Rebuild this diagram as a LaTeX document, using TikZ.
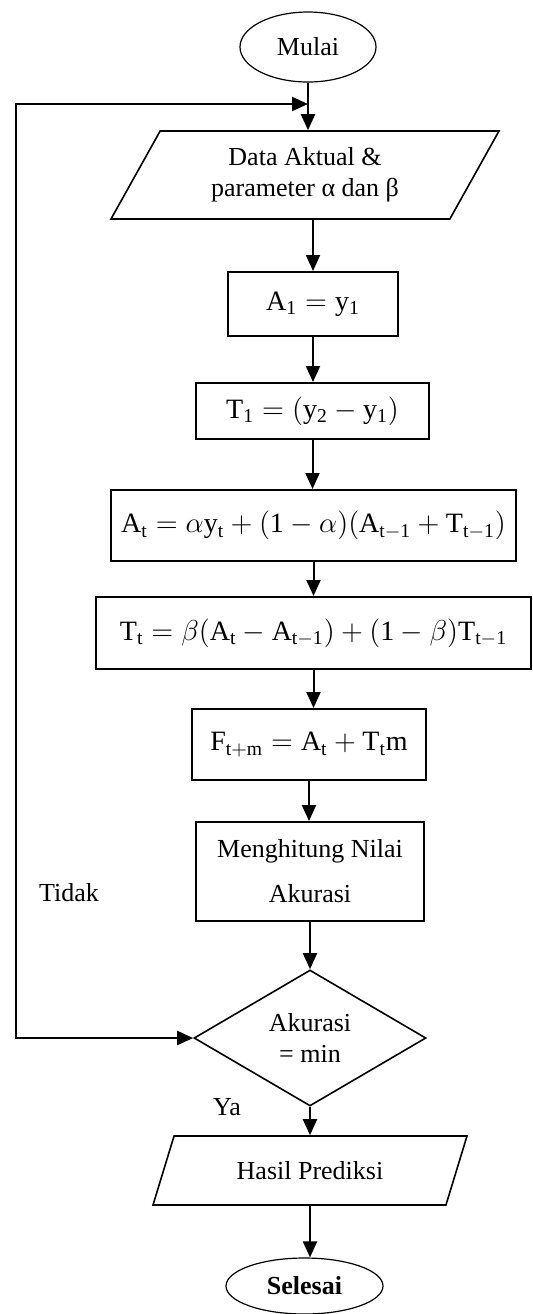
\documentclass[tikz,border=0pt]{standalone}
\usepackage{fontspec}
\setmainfont{Liberation Serif}
\usetikzlibrary{arrows.meta,positioning,calc,shapes.geometric}
\tikzset{
  proc/.style={draw,line width=1pt,inner sep=1pt,align=center},
  eq/.style={proc,font=\fontsize{14}{17}\selectfont},
  term/.style={draw,ellipse,line width=0.6pt,inner sep=0pt,align=center},
  io/.style={draw,trapezium,trapezium stretches body,line width=0.8pt,inner sep=0pt,align=center},
  dec/.style={draw,diamond,aspect=2,line width=0.8pt,inner sep=0pt,align=center},
  arr/.style={-{Triangle[length=8pt,width=7pt]},line width=1pt},
  lbl/.style={inner sep=0pt},
}
\begin{document}
\begin{tikzpicture}[x=0.5pt,y=-0.5pt,font=\fontsize{13}{15.5}\selectfont]
 \useasboundingbox (0,0) rectangle (533,1314);
 \node[term,minimum width=68pt,minimum height=35pt] (mulai) at (308,47) {Mulai};
 \node[io,trapezium left angle=48,trapezium right angle=132,minimum width=194pt,minimum height=44pt] (data) at (305,175) {Data Aktual \&\\parameter α dan β};
 \node[eq,minimum width=85pt,minimum height=32pt] (a1) at (313,304) {$\mathrm{A_1 = y_1}$};
 \node[eq,minimum width=116.5pt,minimum height=28pt] (t1) at (312.5,411) {$\mathrm{T_1 = (y_2 - y_1)}$};
 \node[eq,minimum width=202.5pt,minimum height=35.5pt] (at) at (313.5,525.5) {$\mathrm{A_t = \alpha y_t + (1 - \alpha)(A_{t-1} + T_{t-1})}$};
 \node[eq,minimum width=217.5pt,minimum height=36pt] (tt) at (313.5,633) {$\mathrm{T_t = \beta(A_t - A_{t-1}) + (1 - \beta)T_{t-1}}$};
 \node[eq,minimum width=117pt,minimum height=35.5pt] (ft) at (309,744.5) {$\mathrm{F_{t+m} = A_t + T_t m}$};
 \node[proc,minimum width=114pt,minimum height=49.5pt] (hit) at (310,871.5) {Menghitung Nilai\\[7pt]Akurasi};
 \node[dec,minimum width=116pt,minimum height=68pt] (cek) at (310,1038) {Akurasi\\= min};
 \node[io,trapezium left angle=41,trapezium right angle=139,minimum width=157pt,minimum height=34.5pt] (hasil) at (310,1170.5) {Hasil Prediksi};
 \node[term,minimum width=78.5pt,minimum height=28pt] (selesai) at (304.5,1286) {\textbf{Selesai}};
 \node[lbl] (tidak) at (69,893) {Tidak};
 \node[lbl] (ya) at (227,1107) {Ya};
 \coordinate (jn) at (mulai.south |- 0,104); \coordinate (kiri) at (16,104);
 \draw[arr](mulai.south)--(mulai.south|-data.north); \draw[arr](data.south-|a1)--(a1.north); \draw[arr](a1.south)--(a1.south|-t1.north);
 \draw[arr](t1.south)--(t1.south|-at.north); \draw[arr](at.south)--(at.south|-tt.north); \draw[arr](tt.south)--(tt.south|-ft.north);
 \draw[arr](ft.south)--(ft.south|-hit.north); \draw[arr](hit.south)--(cek.north); \draw[arr](cek.south)--(cek.south|-hasil.north);
 \draw[arr](hasil.south)--(hasil.south|-selesai.north);
 \draw[arr,{Triangle[length=8pt,width=7pt]}-{Triangle[length=8pt,width=7pt]}](jn)--(kiri)|-(cek.west);
\end{tikzpicture}
\end{document}
